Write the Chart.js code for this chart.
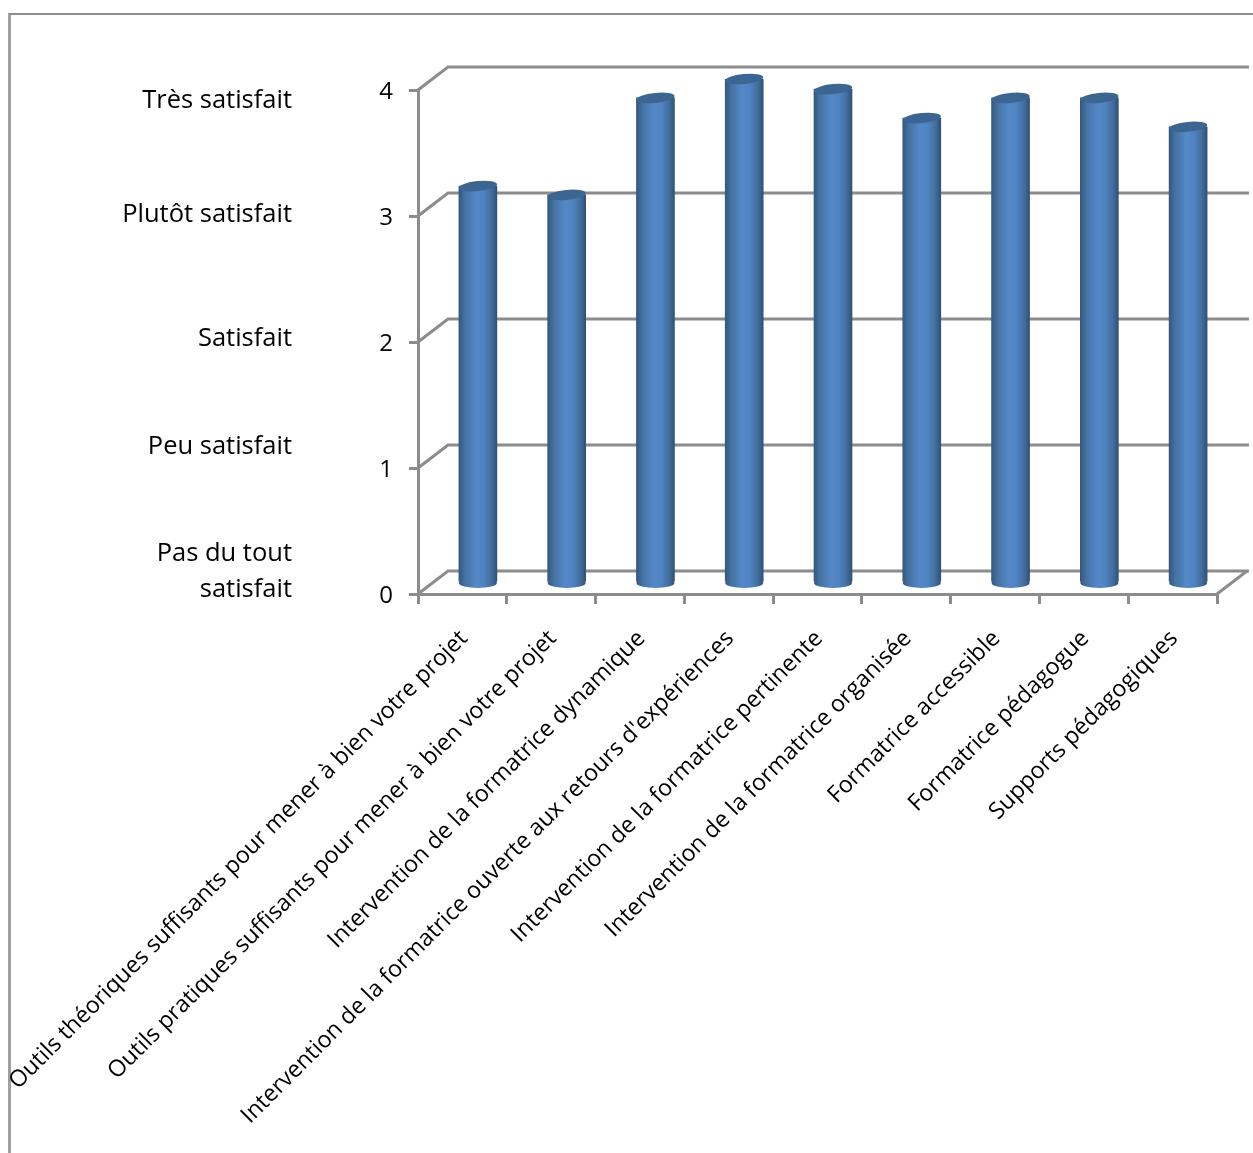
<!DOCTYPE html>
<html lang="fr">
<head>
<meta charset="utf-8">
<title>Satisfaction</title>
<script src="https://cdn.jsdelivr.net/npm/chart.js@4"></script>
<style>
    html, body { margin: 0; padding: 0; background: #fff; overflow: hidden; }
    #frame { position: absolute; left: 8px; top: 13px; right: 0; bottom: 0; border-left: 3px solid #a0a0a0; border-top: 2px solid #8f8f8f; }
    #chart { position: absolute; left: 0; top: 0; }
</style>
</head>
<body>
<div id="frame"></div>
<canvas id="chart" width="1253" height="1153"></canvas>
<script>
const categories = [
    'Outils théoriques suffisants pour mener à bien votre projet',
    'Outils pratiques suffisants pour mener à bien votre projet',
    'Intervention de la formatrice dynamique',
    "Intervention de la formatrice ouverte aux retours d'expériences",
    'Intervention de la formatrice pertinente',
    'Intervention de la formatrice organisée',
    'Formatrice accessible',
    'Formatrice pédagogue',
    'Supports pédagogiques'
];
const scores = [3.15, 3.08, 3.85, 4, 3.92, 3.69, 3.85, 3.85, 3.62];
const tickValues = [0, 1, 2, 3, 4];
const ratingLabels = ['Très satisfait', 'Plutôt satisfait', 'Satisfait', 'Peu satisfait', 'Pas du tout', 'satisfait'];
const ratingLabelY = [101, 215, 339, 447, 554, 590];

const fontFamily = '"Open Sans", sans-serif';
const gridColor = '#8c8c8c';
const depthX = 30;
const depthY = -23;

function barGradient(context) {
    const chart = context.chart;
    if (!chart.chartArea) return '#4f81bd';
    const x = chart.scales.x.getPixelForValue(context.dataIndex);
    const g = chart.ctx.createLinearGradient(x - 19, 0, x + 19, 0);
    g.addColorStop(0, '#335880');
    g.addColorStop(0.15, '#44719f');
    g.addColorStop(0.45, '#5488c8');
    g.addColorStop(0.65, '#4f83c2');
    g.addColorStop(0.85, '#436f9f');
    g.addColorStop(1, '#2f5278');
    return g;
}

// les libellés penchés ne doivent pas pousser la zone du graphique
function noOverhang(scale) {
    scale.paddingLeft = 0;
    scale.paddingRight = 0;
    scale.paddingTop = 0;
    scale.paddingBottom = 0;
}

// fond 3D (murs + sol), barres décalées, textes de gauche
const depthPlugin = {
    id: 'depth',
    beforeDatasetsDraw(chart) {
        const { ctx, chartArea, scales } = chart;
        ctx.save();
        ctx.strokeStyle = gridColor;
        ctx.lineWidth = 3;
        tickValues.forEach(v => {
            const y = scales.y.getPixelForValue(v);
            ctx.beginPath();
            ctx.moveTo(chartArea.left, y);
            ctx.lineTo(chartArea.left + depthX, y + depthY);
            ctx.lineTo(chartArea.right + depthX + 2, y + depthY);
            ctx.stroke();
        });
        ctx.beginPath();
        ctx.moveTo(chartArea.right, chartArea.bottom);
        ctx.lineTo(chartArea.right + depthX, chartArea.bottom + depthY);
        ctx.stroke();
        ctx.restore();
    },
    beforeDatasetDraw(chart) {
        chart.ctx.save();
        chart.ctx.translate(15.5, -11);
    },
    afterDatasetDraw(chart, args) {
        const ctx = chart.ctx;
        args.meta.data.forEach(bar => {
            ctx.fillStyle = bar.options.backgroundColor;
            ctx.beginPath();
            ctx.ellipse(bar.x, bar.base + 1.5, 19, 5, 0, 0, Math.PI * 2);
            ctx.fill();
            ctx.fillStyle = '#3c6591';
            ctx.beginPath();
            ctx.ellipse(bar.x, bar.y, 19.2, 5, -0.1, 0, Math.PI * 2);
            ctx.fill();
        });
        ctx.restore();
    },
    afterDraw(chart) {
        const ctx = chart.ctx;
        ctx.save();
        ctx.fillStyle = '#000';
        ctx.font = '25.5px ' + fontFamily;
        ctx.textAlign = 'right';
        ctx.textBaseline = 'middle';
        ratingLabels.forEach((label, i) => ctx.fillText(label, 292, ratingLabelY[i]));
        ctx.restore();
    }
};

new Chart(document.getElementById('chart'), {
    type: 'bar',
    data: {
        labels: categories,
        datasets: [{
            data: scores,
            backgroundColor: barGradient,
            barThickness: 38
        }]
    },
    options: {
        responsive: false,
        animation: false,
        layout: { padding: { left: 359, right: 36, top: 90, bottom: 0 } },
        plugins: { legend: { display: false }, tooltip: { enabled: false } },
        scales: {
            x: {
                afterFit(scale) { scale.height = 559; noOverhang(scale); },
                border: { color: gridColor, width: 3 },
                grid: { color: gridColor, lineWidth: 3, drawOnChartArea: false, tickLength: 10 },
                ticks: {
                    autoSkip: false,
                    minRotation: 45,
                    maxRotation: 45,
                    padding: 21,
                    labelOffset: 1.5,
                    color: '#000',
                    font: { family: fontFamily, size: 23.2 }
                }
            },
            y: {
                min: 0,
                max: 4,
                afterFit(scale) { scale.width = 59; noOverhang(scale); },
                border: { color: gridColor, width: 3 },
                grid: { color: gridColor, lineWidth: 3, drawOnChartArea: false, tickLength: 9 },
                ticks: {
                    stepSize: 1,
                    padding: 16,
                    labelOffset: 2,
                    color: '#000',
                    font: { family: fontFamily, size: 24 }
                }
            }
        }
    },
    plugins: [depthPlugin]
});
</script>
</body>
</html>
